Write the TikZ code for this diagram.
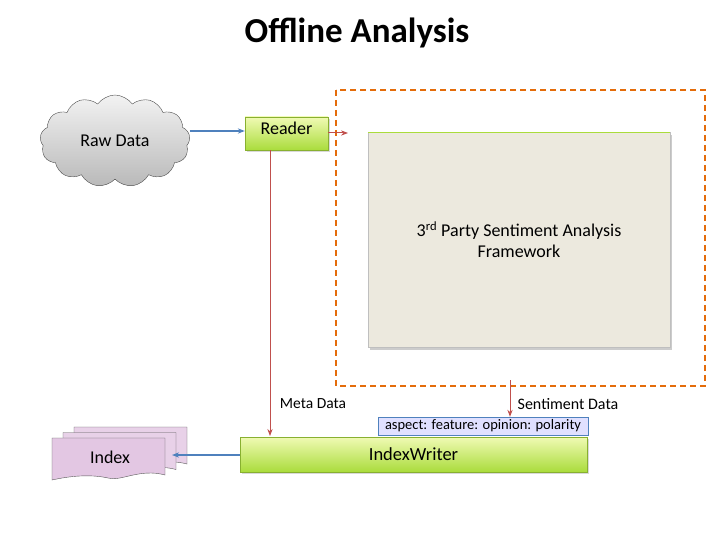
\documentclass[tikz,border=0pt]{standalone}
\usepackage{fontspec}
\setmainfont{Carlito}
\usetikzlibrary{shapes.symbols,arrows.meta,shadows}
\definecolor{gtop}{RGB}{240,250,180}
\definecolor{gbot}{RGB}{170,220,60}
\definecolor{beige}{RGB}{236,233,222}
\definecolor{dorange}{RGB}{228,108,10}
\definecolor{darr}{RGB}{192,80,77}
\definecolor{barr}{RGB}{79,129,189}
\tikzset{
  greenbox/.style={draw=gbot!80!black, top color=gtop, bottom color=gbot, drop shadow={opacity=0.3}},
  redarr/.style={draw=darr, -{Stealth[length=7pt]}, line width=1pt},
  bluearr/.style={draw=barr, -{Stealth[length=7pt]}, line width=1.5pt},
  doc/.style={draw=gray!70!black, fill=violet!18},
}
\begin{document}
\begin{tikzpicture}[x=1pt,y=-1pt,font=\fontsize{18}{21}\selectfont]
\useasboundingbox (0,0) rectangle (720,540);
\node[font=\fontsize{35}{40}\selectfont\bfseries] (title) at (357,33) {Offline Analysis};
% cloud
\node[cloud, cloud puffs=13, cloud puff arc=110, aspect=1.6, draw=gray!60!black, top color=gray!10, bottom color=gray!55,
      minimum width=150, minimum height=92] (raw) at (115,141) {Raw Data};
\node[greenbox, minimum width=83, minimum height=33, text depth=11pt, inner sep=0] (reader) at (286.5,133.5) {Reader};
\draw[bluearr] (raw.east |- 0,131) -- (reader.west |- 0,131);
% dashed region
\draw[dorange, line width=1.4pt, dash pattern=on 6pt off 4pt] (336,90) rectangle (705,386);
\coordinate (dashin) at (348,133);
\draw[redarr] (reader.east |- dashin) -- (dashin);
\node[draw=gray!50, fill=beige, drop shadow={opacity=0.4}, minimum width=302, minimum height=215, align=center] (fw) at (519,240)
  {3\textsuperscript{rd} Party Sentiment Analysis\\Framework};
\draw[gbot, line width=1.2pt] (fw.north west) -- (fw.north east);
% bottom
\node[draw=barr, fill=blue!12, minimum width=210, minimum height=18, inner sep=0, font=\fontsize{14.5}{16}\selectfont] (asp) at (483,426) {aspect: feature: opinion: polarity};
\node[greenbox, minimum width=347, minimum height=35] (iw) at (413.5,454.5) {\fontsize{18.5}{21}\selectfont IndexWriter};
\coordinate (metaend) at (270,436);
\draw[redarr] (reader.south -| metaend) -- (metaend);
\node[font=\fontsize{15.5}{18}\selectfont] (meta) at (313,404) {Meta Data};
\coordinate (sentstart) at (510,380);
\draw[redarr] (sentstart) -- (asp.north -| sentstart);
\node[font=\fontsize{16}{18}\selectfont] (sent) at (568,404) {Sentiment Data};
% index documents
\foreach \dx in {22,11} {
  \draw[doc] (52+\dx,438-\dx/2) -- (165+\dx,438-\dx/2) -- (165+\dx,475-\dx/2)
    .. controls (140+\dx,468-\dx/2) and (120+\dx,482-\dx/2) .. (108+\dx,478-\dx/2)
    .. controls (90+\dx,474-\dx/2) and (70+\dx,476-\dx/2) .. (52+\dx,480-\dx/2) -- cycle;
}
\draw[doc, fill=violet!22] (52,438) -- (165,438) -- (165,475)
    .. controls (140,468) and (120,482) .. (108,478)
    .. controls (90,474) and (70,476) .. (52,480) -- cycle;
\node (index) at (110,457) {Index};
\coordinate (idxend) at (172,455);
\draw[bluearr] (iw.west |- idxend) -- (idxend);
\end{tikzpicture}
\end{document}
